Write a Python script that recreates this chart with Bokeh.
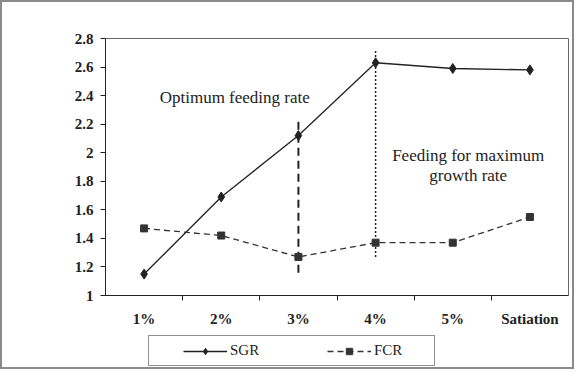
import numpy as np
from bokeh.plotting import figure
from bokeh.layouts import column
from bokeh.models import (Range1d, FixedTicker, Legend, LegendItem, Label)
from bokeh.embed import file_html
from bokeh.resources import INLINE

# ---- data ----
categories = ["1%", "2%", "3%", "4%", "5%", "Satiation"]
sgr = [1.15, 1.69, 2.12, 2.63, 2.59, 2.58]
fcr = [1.47, 1.42, 1.27, 1.37, 1.37, 1.55]
y_ticks = [1.0, 1.2, 1.4, 1.6, 1.8, 2.0, 2.2, 2.4, 2.6, 2.8]
y_tick_labels = ["1", "1.2", "1.4", "1.6", "1.8", "2", "2.2", "2.4", "2.6", "2.8"]
# vertical marker lines: (category, y_bottom, y_top)
opt_line = ("3%", 1.16, 2.24)
max_line = ("4%", 1.27, 2.72)
series_names = ["SGR", "FCR"]

x = np.arange(len(categories)) + 0.5
pos = {c: xi for c, xi in zip(categories, x)}

SERIF = "Liberation Serif"
INK = "#222222"
INK2 = "#333333"

p = figure(width=570, height=333, output_backend="svg", toolbar_location=None,
           x_range=Range1d(0, len(categories)), y_range=Range1d(1.0, 2.8),
           min_border_left=103, min_border_top=36, min_border_right=4,
           min_border_bottom=40)
p.xgrid.visible = False
p.ygrid.visible = False
p.outline_line_color = "#666666"
p.outline_line_width = 1
p.border_fill_color = "white"

# x axis: labels at category centres, tick marks at boundaries
p.xaxis.ticker = FixedTicker(ticks=list(x), minor_ticks=list(np.arange(1, len(categories))))
p.xaxis.major_label_overrides = {float(xi): c for xi, c in zip(x, categories)}
p.xaxis.major_tick_out = 0
p.xaxis.major_tick_in = 0
p.xaxis.minor_tick_out = 5
p.xaxis.minor_tick_in = 0
p.xaxis.major_label_standoff = 10
p.xaxis.axis_line_color = INK
p.xaxis.minor_tick_line_color = INK
p.xaxis.major_label_text_font = SERIF
p.xaxis.major_label_text_font_style = "bold"
p.xaxis.major_label_text_font_size = "15px"
p.xaxis.major_label_text_color = INK

p.yaxis.ticker = FixedTicker(ticks=y_ticks, minor_ticks=[])
p.yaxis.major_label_overrides = {t: l for t, l in zip(y_ticks, y_tick_labels)}
p.yaxis.major_tick_out = 5
p.yaxis.major_tick_in = 0
p.yaxis.major_label_standoff = 7
p.yaxis.axis_line_color = INK
p.yaxis.major_tick_line_color = INK
p.yaxis.major_label_text_font = SERIF
p.yaxis.major_label_text_font_style = "bold"
p.yaxis.major_label_text_font_size = "15px"
p.yaxis.major_label_text_color = INK

# vertical reference lines
for cat, yb, yt, dash, w in [(opt_line[0], opt_line[1], opt_line[2], "8 5", 2),
                             (max_line[0], max_line[1], max_line[2], "2 2", 1.5)]:
    p.line([pos[cat], pos[cat]], [yb, yt], line_color=INK, line_width=w, line_dash=dash)

# series
p.line(x, sgr, line_color=INK, line_width=1.3)
p.scatter(x, sgr, marker="diamond", size=10, color=INK)
p.line(x, fcr, line_color=INK2, line_width=1.3, line_dash="6 4")
p.scatter(x, fcr, marker="square", size=7, color=INK2)

# annotations
for txt, xx, yy in [("Optimum feeding rate", 1.675, 2.39),
                    ("Feeding for maximum", 4.70, 1.98),
                    ("growth rate", 4.70, 1.84)]:
    p.add_layout(Label(x=xx, y=yy, text=txt, text_font=SERIF, text_font_size="17px",
                       text_align="center", text_baseline="middle", text_color=INK))

# ---- legend strip (separate figure under the chart; its series fall outside its range) ----
q = figure(width=570, height=32, output_backend="svg", toolbar_location=None,
           x_axis_type=None, y_axis_type=None,
           x_range=Range1d(0, len(categories)), y_range=Range1d(-1, 0),
           min_border=0)
q.xgrid.visible = False
q.ygrid.visible = False
q.outline_line_color = None
q.border_fill_color = "white"
ql1 = q.line(x, sgr, line_color=INK, line_width=1.3)
qm1 = q.scatter(x, sgr, marker="diamond", size=10, color=INK)
ql2 = q.line(x, fcr, line_color=INK2, line_width=1.3, line_dash="6 4")
qm2 = q.scatter(x, fcr, marker="square", size=7, color=INK2)

legend = Legend(items=[LegendItem(label=series_names[0], renderers=[ql1, qm1]),
                       LegendItem(label=series_names[1], renderers=[ql2, qm2])],
                orientation="horizontal", location=(43, 1),
                title=" ", title_location="left", title_text_font_size="8px",
                title_standoff=19,
                glyph_width=44, glyph_height=16, label_width=54, spacing=43,
                padding=6, label_standoff=3, margin=0,
                label_text_font=SERIF, label_text_font_size="15px",
                label_text_color=INK,
                border_line_color=INK, border_line_width=1,
                background_fill_color="white", background_fill_alpha=1)
q.add_layout(legend, "center")

layout = column(p, q, spacing=0, styles={"border": "2px solid #8a8a8a", "background": "white"})

open("out.html", "w").write(file_html(layout, INLINE))
